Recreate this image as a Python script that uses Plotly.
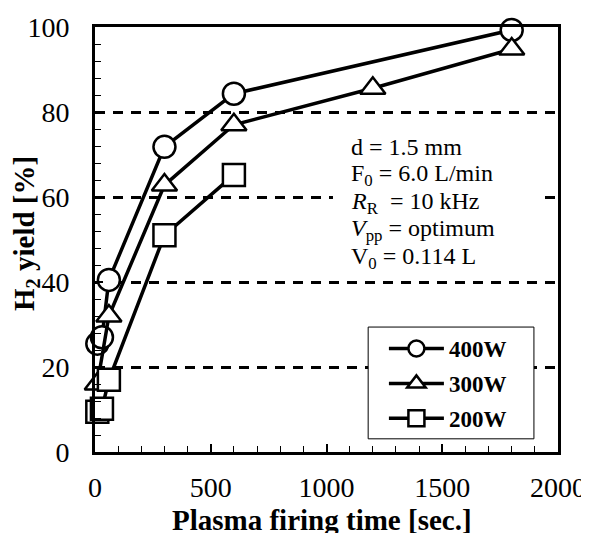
import plotly.graph_objects as go

t400 = [10, 30, 60, 300, 600, 1800]
y400 = [25.5, 27, 40.5, 71.8, 84.3, 99.3]
t300 = [10, 60, 300, 600, 1200, 1800]
y300 = [16, 32, 62.8, 77, 85.6, 94.8]
t200 = [10, 30, 60, 300, 600]
y200 = [9.5, 10.2, 17, 51, 65.2]

names = ["400W", "300W", "200W"]
symbols = ["circle", "triangle-up", "square"]

x_title = "<b>Plasma firing time [sec.]</b>"
y_title = "<b>H<sub>2</sub> yield [%]</b>"

SERIF = "Liberation Serif"

fig = go.Figure()
for tx, ty, sym, nm in zip([t400, t300, t200], [y400, y300, y200], symbols, names):
    fig.add_trace(go.Scatter(
        x=tx, y=ty, name=nm, mode="lines+markers", legendgroup=nm,
        line=dict(color="black", width=3.5),
        marker=dict(symbol=sym, size=22, color="white",
                    line=dict(color="black", width=2.5)),
        cliponaxis=False,
    ))

# white box behind the condition text
fig.add_shape(type="rect", xref="paper", yref="paper",
              x0=0.514, x1=0.955, y0=0.43, y1=0.75,
              fillcolor="white", line=dict(width=0), layer="above")
# legend frame
fig.add_shape(type="rect", xref="paper", yref="paper",
              x0=0.590, x1=0.948, y0=0.031, y1=0.294,
              fillcolor="white", line=dict(color="black", width=1), layer="above")

# page body has an 8px margin: figure is 581x525 placed at (8,8)
fig.update_layout(
    width=581, height=525,
    margin=dict(l=87, r=31, t=19, b=81),
    paper_bgcolor="white", plot_bgcolor="white",
    font=dict(family=SERIF, color="black", size=24),
    showlegend=True,
    legend=dict(
        x=0.624, y=0.294, xanchor="left", yanchor="top",
        borderwidth=0, bgcolor="rgba(0,0,0,0)",
        font=dict(family=SERIF, size=23, color="black", weight="bold"),
        tracegroupgap=2, itemwidth=55,
    ),
    xaxis=dict(
        range=[0, 2000], dtick=500, tick0=0,
        ticks="inside", ticklen=8, tickwidth=1.5, tickcolor="black",
        minor=dict(dtick=100, ticks="inside", ticklen=6, tickwidth=1.2, tickcolor="black"),
        showline=True, linecolor="black", linewidth=3, mirror=True,
        showgrid=False, zeroline=False, automargin=False,
        tickfont=dict(size=28, family=SERIF),
        ticklabelstandoff=8,
    ),
    yaxis=dict(
        range=[0, 100], dtick=20, tick0=0,
        ticks="inside", ticklen=8, tickwidth=1.5, tickcolor="black",
        minor=dict(dtick=4, ticks="inside", ticklen=6, tickwidth=1.2, tickcolor="black", showgrid=False),
        showline=True, linecolor="black", linewidth=3, mirror=True,
        showgrid=True, gridcolor="black", gridwidth=2.5, griddash="10px,8px",
        zeroline=False, automargin=False,
        tickfont=dict(size=28, family=SERIF),
        ticklabelstandoff=17,
    ),
)

# axis titles
fig.add_annotation(x=0.49, y=-0.16, xref="paper", yref="paper",
                   xanchor="center", yanchor="middle", showarrow=False,
                   text=x_title, font=dict(family=SERIF, size=29, color="black"))
fig.add_annotation(x=-0.149, y=0.513, xref="paper", yref="paper",
                   xanchor="center", yanchor="middle", showarrow=False, textangle=-90,
                   text=y_title, font=dict(family=SERIF, size=29, color="black"))

ann_lines = [
    "d = 1.5 mm",
    "F<sub>0</sub> = 6.0 L/min",
    "<i>R</i><sub>R</sub>  = 10 kHz",
    "<i>V</i><sub>pp</sub> = optimum",
    "V<sub>0</sub> = 0.114 L",
]
ann_y = [0.718, 0.652, 0.586, 0.522, 0.456]
for txt, yy in zip(ann_lines, ann_y):
    fig.add_annotation(
        x=0.549, y=yy, xref="paper", yref="paper", xanchor="left", yanchor="middle",
        text=txt, showarrow=False,
        font=dict(family=SERIF, size=24, color="black"),
    )

fig.write_html("out.html")
